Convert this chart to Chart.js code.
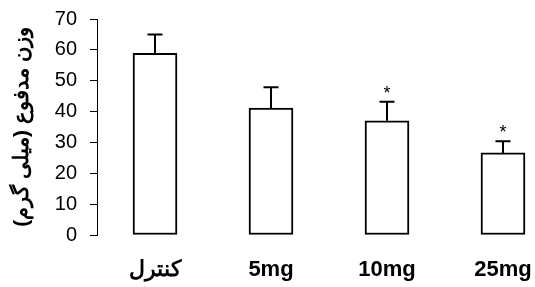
<!DOCTYPE html>
<html>
<head>
    <title>وزن مدفوع</title>
    <style>
        body { margin: 0; background: #fff; }
        #chart-container { width: 535px; height: 287px; }
    </style>
</head>
<body>
    <script src="https://cdn.jsdelivr.net/npm/chart.js@4"></script>
    <div id="chart-container">
        <canvas id="myChart"></canvas>
    </div>
    <script>
        const categories = ['کنترل', '5mg', '10mg', '25mg'];
        const means = [58.9, 41.1, 37.0, 26.6];
        const errors = [6.1, 6.8, 6.2, 3.8];
        const marks = ['', '', '*', '*'];
        const yTicks = [0, 10, 20, 30, 40, 50, 60, 70];

        // error bars and stars, placed through the scales
        const errorBars = {
            id: 'errorBars',
            afterDatasetsDraw(chart) {
                const ctx = chart.ctx;
                const xs = chart.scales.x, ys = chart.scales.y;
                ctx.save();
                ctx.strokeStyle = '#000';
                ctx.lineWidth = 2;
                ctx.fillStyle = '#000';
                ctx.font = '18px Arial';
                ctx.textAlign = 'center';
                ctx.textBaseline = 'alphabetic';
                means.forEach((m, i) => {
                    const x = xs.getPixelForValue(i);
                    const y0 = ys.getPixelForValue(m);
                    const y1 = ys.getPixelForValue(m + errors[i]);
                    ctx.beginPath();
                    ctx.moveTo(x, y0);
                    ctx.lineTo(x, y1);
                    ctx.moveTo(x - 7.5, y1);
                    ctx.lineTo(x + 7.5, y1);
                    ctx.stroke();
                    if (marks[i]) ctx.fillText(marks[i], x, y1 - 3);
                });
                ctx.restore();
            }
        };

        new Chart('myChart', {
            type: 'bar',
            data: {
                datasets: [{
                    data: means.map((v, i) => ({ x: i, y: v })),
                    backgroundColor: '#fff',
                    borderColor: '#000',
                    borderWidth: 2,
                    borderSkipped: false,
                    barThickness: 44
                }]
            },
            options: {
                responsive: true,
                maintainAspectRatio: false,
                animation: false,
                layout: { padding: { top: 19, right: 0, bottom: 0, left: 0 } },
                plugins: { legend: { display: false }, tooltip: { enabled: false } },
                scales: {
                    x: {
                        type: 'linear',
                        offset: false,
                        min: -0.5,
                        max: 3.276,
                        afterBuildTicks: s => { s.ticks = categories.map((c, i) => ({ value: i })); },
                        afterFit: s => { s.height = 52; s.paddingLeft = 0; s.paddingRight = 0; },
                        grid: { display: false, drawTicks: false },
                        border: { display: false },
                        ticks: {
                            callback: v => categories[v],
                            autoSkip: false,
                            maxRotation: 0,
                            padding: 22,
                            color: '#000',
                            font: { family: 'Arial', size: 22, weight: 'bold' }
                        }
                    },
                    y: {
                        min: 0,
                        max: 70,
                        afterBuildTicks: s => { s.ticks = yTicks.map(v => ({ value: v })); },
                        afterFit: s => { s.width = 97; s.paddingTop = 0; s.paddingBottom = 0; },
                        grid: { drawOnChartArea: false, drawTicks: true, tickLength: 7, color: '#000' },
                        border: { display: true, color: '#000', width: 1 },
                        ticks: {
                            padding: 13,
                            color: '#000',
                            font: { family: 'Arial', size: 20 }
                        },
                        title: {
                            display: true,
                            text: 'وزن مدفوع (میلی گرم)',
                            color: '#000',
                            padding: { top: 10, bottom: 0 },
                            font: { family: 'Arial', size: 21, weight: 'bold' }
                        }
                    }
                }
            },
            plugins: [errorBars]
        });
    </script>
</body>
</html>
